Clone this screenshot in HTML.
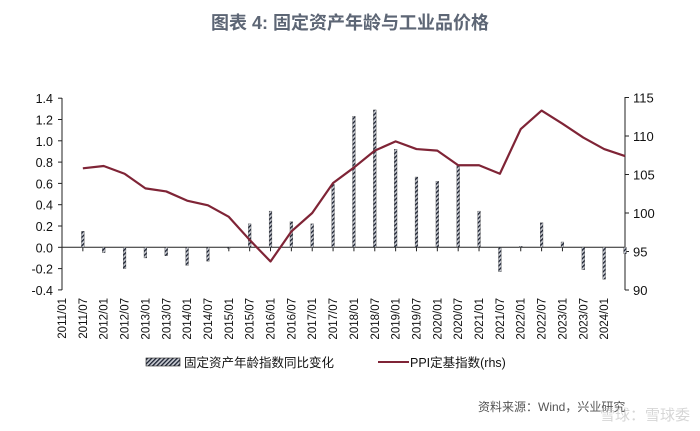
<!DOCTYPE html>
<html><head><meta charset="utf-8"><style>
body{margin:0;background:#fff;}
svg{display:block;font-family:"Liberation Sans","Noto Sans CJK SC",sans-serif;}
</style></head><body>
<svg width="700" height="431" viewBox="0 0 700 431">
<defs>
<pattern id="hatch" width="3" height="3" patternUnits="userSpaceOnUse" patternTransform="rotate(45)">
<rect width="3" height="3" fill="#c8cbd2"/><rect width="1.3" height="3" fill="#1a2030"/>
</pattern>
</defs>
<text x="350" y="29" text-anchor="middle" font-size="18" font-weight="bold" fill="#5d6675">图表 4:  固定资产年龄与工业品价格</text>
<g id="axes"></g>
<g id="bars"></g>
<g id="line"></g>
<g>
<rect x="146" y="358" width="34" height="8" fill="url(#hatch)" stroke="#222" stroke-width="0.6"/>
<text x="184" y="367" font-size="12.5" fill="#111">固定资产年龄指数同比变化</text>
<line x1="378" y1="362" x2="409" y2="362" stroke="#7f2436" stroke-width="2"/>
<text x="410" y="367" font-size="12.5" fill="#111">PPI定基指数(rhs)</text>
</g>
<text x="478" y="411" font-size="12" fill="#555">资料来源：Wind，兴业研究</text>
<text x="600" y="420" font-size="15" fill="#bbb" opacity="0.6">雪球：雪球委</text>
</svg>
<script>
const labels=["2011/01","2011/07","2012/01","2012/07","2013/01","2013/07","2014/01","2014/07","2015/01","2015/07","2016/01","2016/07","2017/01","2017/07","2018/01","2018/07","2019/01","2019/07","2020/01","2020/07","2021/01","2021/07","2022/01","2022/07","2023/01","2023/07","2024/01"];
const ageChange=[0.15,-0.05,-0.2,-0.1,-0.08,-0.17,-0.13,-0.01,0.22,0.34,0.24,0.22,0.59,1.23,1.29,0.92,0.66,0.62,0.77,0.34,-0.23,0.01,0.23,0.05,-0.21,-0.3,-0.06];
const ppi=[105.8,106.1,105.1,103.2,102.8,101.6,101.0,99.5,96.5,93.7,97.6,100.0,103.9,105.9,108.1,109.3,108.3,108.1,106.2,106.2,105.1,110.9,113.3,111.6,109.8,108.3,107.4];
const leftTicks=[1.4,1.2,1.0,0.8,0.6,0.4,0.2,0.0,-0.2,-0.4];
const rightTicks=[115,110,105,100,95,90];
const NS="http://www.w3.org/2000/svg";
const X0=62,X1=625,step=(X1-X0)/labels.length;
const yL=v=>247.3-v*106.5;
const yR=v=>290-(v-90)*7.7;
const xP=i=>X0+step*(i+1);
function mk(t,a,p){const e=document.createElementNS(NS,t);for(const k in a)e.setAttribute(k,a[k]);p.appendChild(e);return e;}
const ax=document.getElementById('axes');
let e=mk('line',{x1:X0,y1:98,x2:X0,y2:290,stroke:'#222','stroke-width':1},ax);


e=mk('line',{x1:X1,y1:97,x2:X1,y2:290,stroke:'#222','stroke-width':1},ax);


e=mk('line',{x1:X0,y1:yL(0),x2:X1,y2:yL(0),stroke:'#222','stroke-width':1},ax);


leftTicks.forEach(v=>{const y=yL(v);
mk('line',{x1:X0-4,y1:y,x2:X0,y2:y,stroke:'#222'},ax);
const t=mk('text',{x:X0-9,y:y+5,'text-anchor':'end','font-size':12.5,fill:'#111'},ax);t.textContent=v.toFixed(1);

});
rightTicks.forEach(v=>{const y=yR(v);
mk('line',{x1:X1,y1:y,x2:X1+4,y2:y,stroke:'#222'},ax);
const t=mk('text',{x:X1+8,y:y+5,'font-size':13,fill:'#111'},ax);t.textContent=v;

});
labels.forEach((l,i)=>{const x=X0+step*i;
mk('line',{x1:x+step,y1:yL(0),x2:x+step,y2:yL(0)+4,stroke:'#222'},ax);
const t=mk('text',{x:0,y:0,'text-anchor':'end','font-size':11.5,fill:'#111',transform:`translate(${x+4},298) rotate(-90)`},ax);t.textContent=l;

});
const bg=document.getElementById('bars');
ageChange.forEach((v,i)=>{const x=xP(i),y0=yL(0),y=yL(v);
const r=mk('rect',{x:x-1.4,y:Math.min(y,y0),width:2.8,height:Math.abs(y-y0),fill:'url(#hatch)',stroke:'#333','stroke-width':0.3},bg);

});
const pl=mk('polyline',{points:ppi.map((v,i)=>xP(i)+','+yR(v)).join(' '),fill:'none',stroke:'#7f2436','stroke-width':2.2,'stroke-linejoin':'round'},document.getElementById('line'));


</script>
</body></html>
